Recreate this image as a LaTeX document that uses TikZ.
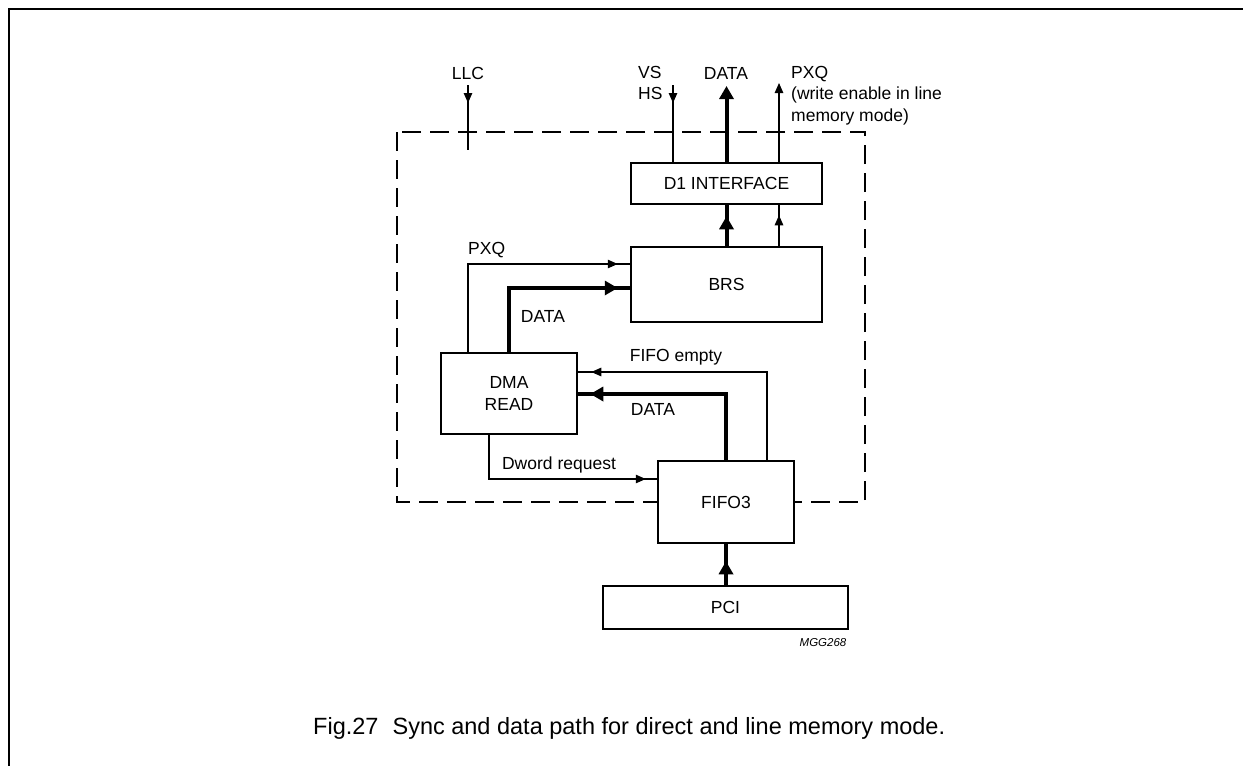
\documentclass[tikz,border=0pt]{standalone}
\usepackage{fontspec}
\setmainfont{Liberation Sans}
\usetikzlibrary{arrows.meta,decorations.markings}
\tikzset{
  blk/.style={draw,line width=2.5pt,fill=white,inner sep=0pt,align=center,
    font=\fontsize{17.5}{21.5}\selectfont},
  lbl/.style={inner sep=0pt,font=\fontsize{17.5}{21.5}\selectfont},
  thinln/.style={line width=1.1pt},
  thickln/.style={line width=4pt,line join=miter},
  thinhead/.style={-{Triangle[length=10pt,width=8.5pt]}},
  thickhead/.style={-{Triangle[length=13pt,width=14pt]}},
  midthin/.style={postaction={decorate},decoration={markings,
    mark=at position #1 with {\arrow{Triangle[length=10pt,width=8.5pt]}}}},
  midthick/.style={postaction={decorate},decoration={markings,
    mark=at position #1 with {\arrow{Triangle[length=13pt,width=14pt]}}}},
}
\begin{document}
\begin{tikzpicture}[x=1pt,y=-1pt]
\useasboundingbox (0,0) rectangle (1243,766);
% frame
\draw[line width=1.6pt] (9,766) -- (9,9) -- (1243,9);
% dashed boundary
\draw[line width=2.5pt,dash pattern=on 19pt off 9pt] (397,132) rectangle (865,502);

% blocks
\node[blk,minimum width=191pt,minimum height=41pt] (d1) at (726.5,183.5) {D1 INTERFACE};
\node[blk,minimum width=191pt,minimum height=75pt] (brs) at (726.5,284.5) {BRS};
\node[blk,minimum width=136pt,minimum height=81pt] (dma) at (509,393.5) {DMA\\READ};
\node[blk,minimum width=136pt,minimum height=82pt] (fifo) at (726,502) {FIFO3};
\node[blk,minimum width=245pt,minimum height=43pt] (pci) at (725.5,607.5) {PCI};

% free ends
\coordinate (llctop) at (468,85);
\coordinate (llcbot) at (468,150);
\coordinate (vstop) at (673,85);
\coordinate (datatop) at (726.5,86);
\coordinate (pxqtop) at (779,83);
\coordinate (pxqy) at (468,264);
\coordinate (datay) at (509,288);
\coordinate (fey) at (767,372);
\coordinate (dly) at (726,394);
\coordinate (dwy) at (489,479);

% top labels
\node[lbl] (llc) at (468,73.5) {LLC};
\node[lbl,align=left,anchor=north west] (vshs) at (638,66) {VS\\HS};
\node[lbl] (datalbl) at (726,73.5) {DATA};
\node[lbl,align=left,anchor=north west] (pxqlbl) at (791,66) {PXQ\\(write enable in line\\memory mode)};

% top connectors
\draw[thinln,midthin=18pt] (llctop) -- (llcbot);
\draw[thinln,midthin=18pt] (vstop) -- (vstop |- d1.north);
\draw[thickln,thickhead] (d1.north) -- (datatop);
\draw[thinln,thinhead] (pxqtop |- d1.north) -- (pxqtop);

% BRS -> D1
\draw[thickln,midthick=-11pt] (brs.north) -- (d1.south);
\draw[thinln,midthin=-10pt] (brs.north -| pxqtop) -- (d1.south -| pxqtop);

% DMA -> BRS
\draw[thinln,midthin=-12pt] (dma.north -| pxqy) |- (brs.west |- pxqy);
\node[lbl,anchor=west] (pxqin) at (468,250) {PXQ};
\draw[thickln,midthick=-12pt] (dma.north -| datay) |- (brs.west |- datay);
\node[lbl] (datain) at (543,316) {DATA};

% FIFO3 -> DMA
\draw[thinln,midthin=-13pt] (fifo.north -| fey) |- (dma.east |- fey);
\node[lbl] (felbl) at (676,357) {FIFO empty};
\draw[thickln,midthick=-12pt] (fifo.north -| dly) |- (dma.east |- dly);
\node[lbl] (datalow) at (653,409) {DATA};

% DMA -> FIFO3
\draw[thinln,midthin=-11pt] (dma.south -| dwy) |- (fifo.west |- dwy);
\node[lbl] (dwlbl) at (559,465) {Dword request};

% PCI -> FIFO3
\draw[thickln,midthick=-17pt] (pci.north -| fifo.south) -- (fifo.south);

% ref code
\node[inner sep=0pt,font=\fontsize{11.5}{13}\selectfont\itshape] (ref) at (823,643) {MGG268};
% caption
\node[inner sep=0pt,anchor=base west,font=\fontsize{23.5}{27}\selectfont] (cap) at (313,734) {Fig.27\hspace{0.6em}Sync and data path for direct and line memory mode.};
\end{tikzpicture}
\end{document}
